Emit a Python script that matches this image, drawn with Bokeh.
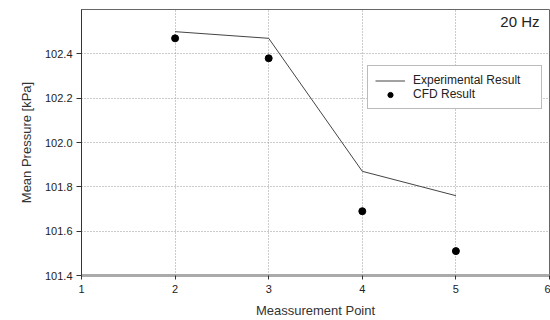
from bokeh.plotting import figure
from bokeh.models import (FixedTicker, NumeralTickFormatter, Legend, LegendItem,
                          Label, Range1d)
from bokeh.embed import file_html
from bokeh.resources import INLINE

points = [2, 3, 4, 5]
experimental = [102.50, 102.47, 101.87, 101.76]
cfd = [102.47, 102.38, 101.69, 101.51]
x_ticks = [1, 2, 3, 4, 5, 6]
y_ticks = [101.4, 101.6, 101.8, 102.0, 102.2, 102.4]

FONT = "Liberation Sans"

p = figure(width=550, height=320, output_backend="svg", toolbar_location=None,
           x_range=Range1d(1, 6), y_range=Range1d(101.4, 102.6),
           min_border_left=81, min_border_right=1, min_border_top=9,
           min_border_bottom=42)
p.background_fill_color = "white"
p.border_fill_color = "white"
p.outline_line_color = "#666666"
p.outline_line_width = 1

# grids
p.xgrid.ticker = FixedTicker(ticks=[2, 3, 4, 5])
p.ygrid.ticker = FixedTicker(ticks=[101.6, 101.8, 102.0, 102.2, 102.4])
for g in (p.xgrid, p.ygrid):
    g.grid_line_color = "#999999"
    g.grid_line_dash = "1 2"
    g.grid_line_width = 1

# axes
p.xaxis.ticker = FixedTicker(ticks=x_ticks)
p.yaxis.ticker = FixedTicker(ticks=y_ticks)
p.yaxis.formatter = NumeralTickFormatter(format="0.0")
p.xaxis.axis_line_color = "#aaaaaa"
p.xaxis.axis_line_width = 3
p.yaxis.axis_line_color = "#333333"
p.yaxis.axis_line_width = 1
for ax in (p.xaxis, p.yaxis):
    ax.minor_tick_line_color = None
    ax.major_tick_line_color = "#333333"
    ax.major_tick_in = 0
    ax.major_label_text_font = FONT
    ax.major_label_text_font_size = "11px"
    ax.major_label_text_color = "#222222"
    ax.axis_label_text_font = FONT
    ax.axis_label_text_font_style = "normal"
    ax.axis_label_text_color = "#333333"
p.xaxis.major_tick_out = 4
p.yaxis.major_tick_out = 5
p.xaxis.major_label_standoff = 5
p.yaxis.major_label_standoff = 4
p.xaxis.axis_label = "Meassurement Point"
p.xaxis.axis_label_text_font_size = "13px"
p.xaxis.axis_label_standoff = 7
p.yaxis.axis_label = "Mean Pressure [kPa]"
p.yaxis.axis_label_text_font_size = "13px"
p.yaxis.axis_label_standoff = 8

exp_r = p.line(points, experimental, line_color="#444444", line_width=1)
cfd_r = p.scatter(points, cfd, size=7, marker="circle", fill_color="black",
                  line_color="black")

legend = Legend(items=[LegendItem(label="Experimental Result", renderers=[exp_r]),
                       LegendItem(label="CFD Result", renderers=[cfd_r])],
                location=(286, 166))
legend.border_line_color = "#777777"
legend.border_line_width = 1
legend.background_fill_alpha = 1
legend.label_text_font = FONT
legend.label_text_font_size = "12px"
legend.label_text_color = "#222222"
legend.glyph_width = 30
legend.glyph_height = 13
legend.label_height = 13
legend.label_width = 121
legend.label_standoff = 8
legend.padding = 7
legend.spacing = 0
legend.margin = 0
p.add_layout(legend, "center")

p.add_layout(Label(x=458, y=246, x_units="screen", y_units="screen",
                   text="20 Hz", text_font=FONT, text_font_size="15px",
                   text_color="#222222", text_align="right"))

open("out.html", "w").write(file_html(p, INLINE))
